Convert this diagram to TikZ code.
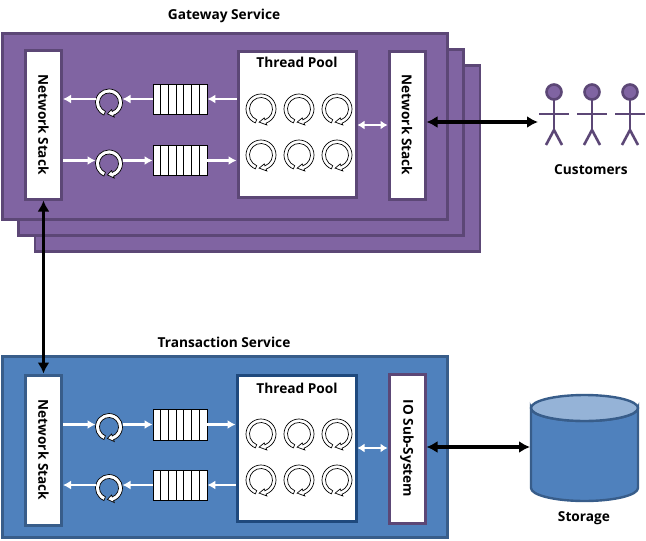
\documentclass[tikz,border=0pt]{standalone}
\usepackage{graphicx}
\usepackage{fontspec}
\setmainfont{Open Sans}
\usetikzlibrary{arrows.meta}
\definecolor{purpfill}{HTML}{8064A2}
\definecolor{purpedge}{HTML}{5C4776}
\definecolor{bluefill}{HTML}{4F81BD}
\definecolor{blueedge}{HTML}{385D8A}
\definecolor{bluedark}{HTML}{1F497D}
\definecolor{bluelight}{HTML}{95B3D7}
\newcommand{\ringshape}[2]{%
  \pgfmathsetmacro{\ringmid}{(#1+#2)/2}%
  \begin{scope}[yscale=-1]
  \path[draw=black,fill=white,line width=0.7pt,line join=miter]
    (112:#1 pt) arc[start angle=112,end angle=430,radius=#1 pt]
    -- (430:#1 pt+2pt) -- (98:\ringmid pt) -- (430:#2 pt-2pt) -- (430:#2 pt)
    arc[start angle=430,end angle=112,radius=#2 pt] -- cycle;
  \end{scope}}
\tikzset{
  threadring/.pic={\ringshape{15}{11.5}},
  loopring/.pic={\ringshape{13.5}{9.5}},
  person/.pic={
    \begin{scope}[yscale=-1]
    \draw[personline,fill=purpfill] (0,0) circle[radius=7.5pt];
    \draw[personline] (0,8) -- (0,38);
    \draw[personline] (-15,22) -- (15,22);
    \draw[personline,line join=miter] (-8,53) -- (0,38) -- (8,53);
    \end{scope}
  },
  personline/.style={draw=purpedge,line width=2.6pt},
  panelp/.style={draw=purpedge,fill=purpfill,line width=2.4pt,minimum width=445,minimum height=186,inner sep=0pt},
  panelb/.style={draw=blueedge,fill=bluefill,line width=2.4pt,minimum width=445,inner sep=0pt},
  whitebox/.style={fill=white,line width=3pt,inner sep=0pt,font=\bfseries\fontsize{13.6}{15}\selectfont},
  queuebox/.style={draw=black,fill=white,line width=0.8pt,minimum width=54,minimum height=30,inner sep=0pt,
    path picture={\foreach \i in {1,...,6}{\draw[line width=0.8pt]
      ([xshift=\i*7.67pt]path picture bounding box.south west) -- ([xshift=\i*7.67pt]path picture bounding box.north west);}}},
  ttl/.style={font=\bfseries\fontsize{13.7}{15}\selectfont,inner sep=0pt},
  warrow/.style={draw=white,line width=2.8pt,-{Latex[length=8pt,width=9pt]}},
  wdouble/.style={draw=white,line width=2.6pt,{Latex[length=7pt,width=9pt]}-{Latex[length=7pt,width=9pt]}},
  barrow/.style={draw=black,line width=3.4pt,{Latex[length=11pt,width=12pt]}-{Latex[length=11pt,width=12pt]}},
  anchorpt/.style={inner sep=0pt,minimum size=0pt,outer sep=0pt},
}
\begin{document}
\begin{tikzpicture}[x=1pt,y=1pt,yscale=-1]
\useasboundingbox (0,0) rectangle (646,541);
% purple stack
\node[panelp] (gw3) at (257.5,158.5) {};
\node[panelp] (gw2) at (241,142.5) {};
\node[panelp] (gw1) at (225,126.5) {};
\node[ttl] (gwtitle) at (224,16) {Gateway Service};
\node[whitebox,draw=purpedge,minimum width=36,minimum height=149] (ns1) at (43.5,124.5) {\rotatebox{-90}{Network Stack}};
\node[whitebox,draw=purpedge,minimum width=118,minimum height=146] (tp1) at (297,124) {};
\node[ttl] (tp1t) at (297,62.5) {Thread Pool};
\node[whitebox,draw=purpedge,minimum width=36,minimum height=148] (ns2) at (407,125) {\rotatebox{-90}{Network Stack}};
\node[queuebox] (q1) at (180,99) {};
\node[queuebox] (q2) at (180,160.5) {};
\node[anchorpt,minimum size=27pt] (l1) at (109,102.5) {};
\node[anchorpt,minimum size=27pt] (l2) at (109,163.5) {};
\pic at (l1) {loopring};
\pic at (l2) {loopring};
\foreach \x in {261,299,337}{
  \pic at (\x,109) {threadring};
  \pic at (\x,155) {threadring};
}
\draw[warrow] (tp1.west |- q1.west) -- (q1.east);
\draw[warrow] (q1.west) -- (q1.west -| l1.east);
\draw[warrow] (q1.west -| l1.west) -- (q1.west -| ns1.east);
\draw[warrow] (ns1.east |- q2.west) -- (q2.west -| l2.west);
\draw[warrow] (q2.west -| l2.east) -- (q2.west);
\draw[warrow] (q2.east) -- (q2.east -| tp1.west);
\draw[wdouble] (tp1.east |- 0,125) -- (ns2.west |- 0,125);
% blue panel
\node[panelb,minimum height=181] (tx) at (225,447) {};
\node[ttl] (txtitle) at (224,342) {Transaction Service};
\node[whitebox,draw=blueedge,minimum width=36,minimum height=150] (ns3) at (43.5,450) {\rotatebox{-90}{Network Stack}};
\node[whitebox,draw=bluedark,minimum width=119,minimum height=146] (tp2) at (296.5,448.5) {};
\node[ttl] (tp2t) at (297,388) {Thread Pool};
\node[whitebox,draw=purpedge,minimum width=36,minimum height=149] (io) at (407,448.5) {\rotatebox{-90}{IO Sub-System}};
\node[queuebox,minimum height=31] (q3) at (180,424.5) {};
\node[queuebox] (q4) at (180,485) {};
\node[anchorpt,minimum size=27pt] (l3) at (109,427) {};
\node[anchorpt,minimum size=27pt] (l4) at (109,488) {};
\pic at (l3) {loopring};
\pic at (l4) {loopring};
\foreach \x in {261,299,337}{
  \pic at (\x,434) {threadring};
  \pic at (\x,480) {threadring};
}
\draw[warrow] (ns3.east |- q3.west) -- (q3.west -| l3.west);
\draw[warrow] (q3.west -| l3.east) -- (q3.west);
\draw[warrow] (q3.east) -- (q3.east -| tp2.west);
\draw[warrow] (tp2.west |- q4.west) -- (q4.east);
\draw[warrow] (q4.west) -- (q4.west -| l4.east);
\draw[warrow] (q4.west -| l4.west) -- (q4.west -| ns3.east);
\draw[wdouble] (tp2.east |- 0,448) -- (io.west |- 0,448);
% customers
\pic at (554,92) {person};
\pic at (592,92) {person};
\pic at (630,92) {person};
\coordinate (cust) at (538,122);
\node[ttl] (custt) at (591,169.5) {Customers};
% storage
\path[draw=blueedge,fill=bluefill,line width=2.4pt] (531,408) -- (531,488)
  arc[start angle=180,end angle=0,x radius=53.5pt,y radius=13pt] -- (638,408)
  arc[start angle=0,end angle=180,x radius=53.5pt,y radius=13pt] -- cycle;
\draw[draw=blueedge,fill=bluelight,line width=2.4pt] (584.5,408) ellipse[x radius=53.5pt,y radius=13pt];
\coordinate (store) at (530,447);
\node[ttl] (storet) at (584,518) {Storage};
% black connectors
\draw[barrow] (ns1.south) -- (ns3.north);
\draw[barrow] (ns2.east |- cust) -- (cust);
\draw[barrow] (io.east |- store) -- (store);
\end{tikzpicture}
\end{document}
